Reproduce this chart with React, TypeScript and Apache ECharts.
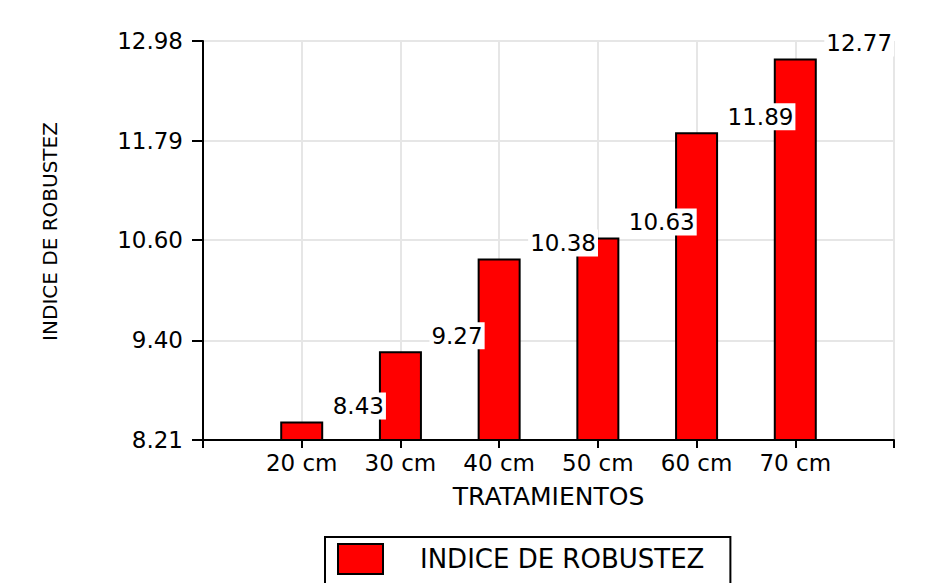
import React, { useEffect, useRef } from "react";
import * as echarts from "echarts";

const categories = ["20 cm", "30 cm", "40 cm", "50 cm", "60 cm", "70 cm"];
const values = [8.43, 9.27, 10.38, 10.63, 11.89, 12.77];
const yTicks = [8.21, 9.4, 10.6, 11.79, 12.98];
const yTickLabels = ["8.21", "9.40", "10.60", "11.79", "12.98"];
const seriesName = "INDICE DE ROBUSTEZ";
const xAxisName = "TRATAMIENTOS";
const yAxisName = "INDICE DE ROBUSTEZ";

const FONT = "DejaVu Sans";

export default function App() {
  const ref = useRef<HTMLDivElement>(null);
  useEffect(() => {
    if (!ref.current) return;
    const chart = echarts.init(ref.current, null, { renderer: "svg" });
    const option: any = {
      animation: false,
      backgroundColor: "#ffffff",
      grid: { left: 203, right: 50, top: 41, bottom: 143, containLabel: false },
      legend: {
        show: true,
        data: [seriesName],
        left: 325,
        top: 537,
        orient: "horizontal",
        icon: "rect",
        itemWidth: 45,
        itemHeight: 30,
        borderColor: "#000",
        borderWidth: 2,
        borderRadius: 0,
        padding: [6, 26, 20, 12],
        textStyle: {
          fontFamily: FONT,
          fontSize: 26,
          color: "#000",
          padding: [0, 0, 0, 32],
        },
        itemStyle: { color: "#ff0000", borderColor: "#000", borderWidth: 2 },
      },
      xAxis: {
        type: "value",
        min: 0,
        max: 7,
        interval: 1,
        name: xAxisName,
        nameLocation: "middle",
        nameGap: 44,
        nameTextStyle: { fontFamily: FONT, fontSize: 25, color: "#000" },
        axisLine: { show: true, onZero: false, lineStyle: { color: "#000", width: 2 } },
        axisTick: { show: true, length: 8, lineStyle: { color: "#000", width: 2 } },
        axisLabel: {
          fontFamily: FONT,
          fontSize: 23,
          color: "#000",
          margin: 11,
          formatter: (v: number) => categories[Math.round(v) - 1] ?? "",
        },
        splitLine: { show: true, lineStyle: { color: "#e6e6e6", width: 2 } },
      },
      yAxis: {
        type: "value",
        min: yTicks[0],
        max: yTicks[yTicks.length - 1],
        name: yAxisName,
        nameLocation: "middle",
        nameGap: 143,
        nameTextStyle: { fontFamily: FONT, fontSize: 20, color: "#000", padding: [0, 0, 0, 18] },
        axisLine: { show: true, lineStyle: { color: "#000", width: 2 } },
        axisTick: {
          show: true,
          length: 11,
          customValues: yTicks,
          lineStyle: { color: "#000", width: 2 },
        },
        axisLabel: {
          fontFamily: FONT,
          fontSize: 23,
          color: "#000",
          margin: 20,
          customValues: yTicks,
          formatter: (v: number) => {
            const i = yTicks.findIndex((t) => Math.abs(t - v) < 1e-6);
            return i >= 0 ? yTickLabels[i] : "";
          },
        },
        splitLine: {
          show: true,
          customValues: yTicks,
          lineStyle: { color: "#e6e6e6", width: 2 },
        },
      },
      series: [
        {
          type: "bar",
          name: seriesName,
          barWidth: 43,
          data: categories.map((c, i) => [i + 1, values[i]]),
          itemStyle: { color: "#ff0000", borderColor: "#000", borderWidth: 2 },
          label: {
            show: true,
            position: "top",
            align: "left",
            distance: 2,
            offset: [29, 0],
            fontFamily: FONT,
            fontSize: 23,
            color: "#000",
            backgroundColor: "#ffffff",
            padding: [2, 2, 2, 2],
            formatter: (p: any) => Number(p.value[1]).toFixed(2),
          },
        },
      ],
    };
    chart.setOption(option);
    return () => chart.dispose();
  }, []);
  return <div ref={ref} style={{ width: 944, height: 583, position: "absolute", left: 0, top: 0 }} />;
}
